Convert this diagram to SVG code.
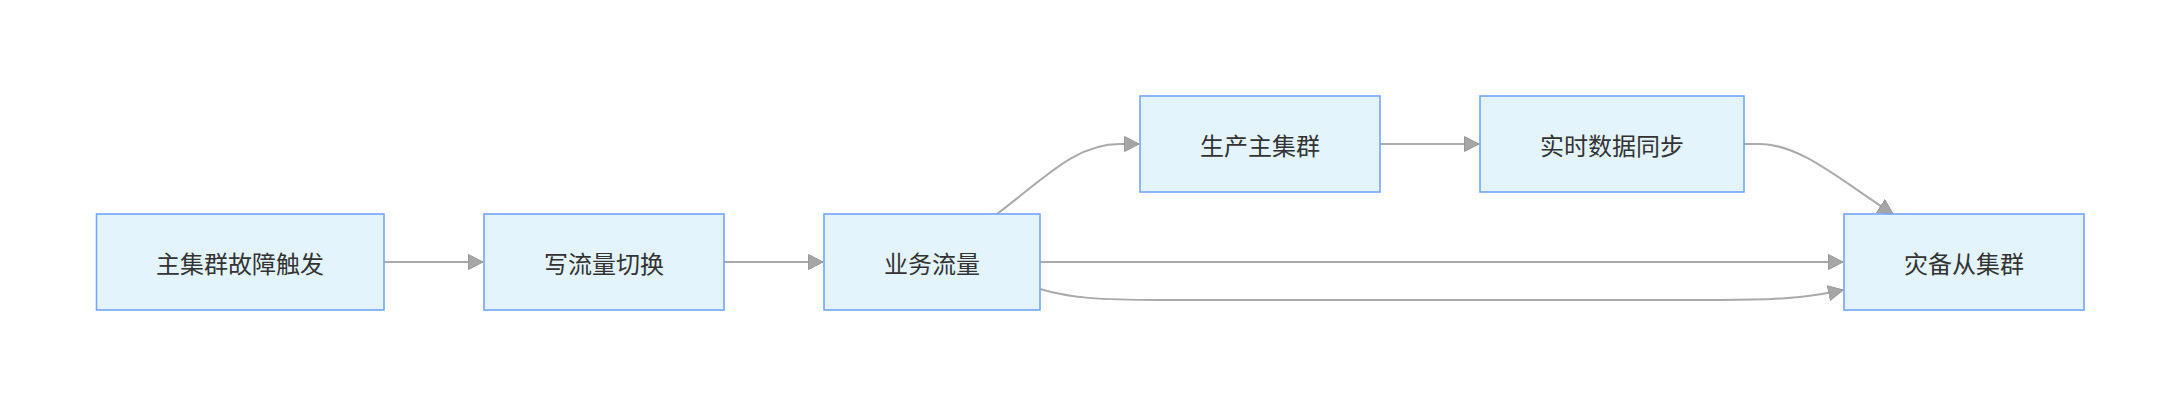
<svg xmlns="http://www.w3.org/2000/svg" width="2180" height="406" viewBox="0 0 2180 406">
<style>
.node rect{fill:#e3f4fd;stroke:#71a6ff;stroke-width:1.6}
.node text{font-family:"Noto Sans CJK SC","Noto Sans",sans-serif;font-size:24px;fill:#333;text-anchor:middle;dominant-baseline:central}
.edge{fill:none;stroke:#aaaaaa;stroke-width:2}
</style>
<defs>
<marker id="arr" markerUnits="userSpaceOnUse" markerWidth="16" markerHeight="16" viewBox="0 0 16 16" refX="15" refY="8" orient="auto">
<path d="M0.5,0.5 L15,8 L0.5,15.5 z" fill="#a6a6a6" stroke="#999" stroke-width="1"/>
</marker>
</defs>
<rect width="2180" height="406" fill="#fff"/>
<g id="connectors">
<path class="edge" d="M384,262 L483,262" marker-end="url(#arr)"/>
<path class="edge" d="M724,262 L823,262" marker-end="url(#arr)"/>
<path class="edge" d="M997,214 C1045,178 1075,144 1120,144 L1139,144" marker-end="url(#arr)"/>
<path class="edge" d="M1380,144 L1479,144" marker-end="url(#arr)"/>
<path class="edge" d="M1744,144 L1760,144 C1800,144 1840,180 1893,214" marker-end="url(#arr)"/>
<path class="edge" d="M1040,262 L1843,262" marker-end="url(#arr)"/>
<path class="edge" d="M1040,289 C1070,298 1100,300 1160,300 L1720,300 C1790,300 1815,296 1843,290" marker-end="url(#arr)"/>
</g>
<g id="n1" class="node"><rect x="96.5" y="214" width="287.5" height="96"/><text x="240" y="262">主集群故障触发</text></g>
<g id="n2" class="node"><rect x="484" y="214" width="240" height="96"/><text x="604" y="262">写流量切换</text></g>
<g id="n3" class="node"><rect x="824" y="214" width="216" height="96"/><text x="932" y="262">业务流量</text></g>
<g id="n4" class="node"><rect x="1140" y="96" width="240" height="96"/><text x="1260" y="144">生产主集群</text></g>
<g id="n5" class="node"><rect x="1480" y="96" width="264" height="96"/><text x="1612" y="144">实时数据同步</text></g>
<g id="n6" class="node"><rect x="1844" y="214" width="240" height="96"/><text x="1964" y="262">灾备从集群</text></g>
</svg>
